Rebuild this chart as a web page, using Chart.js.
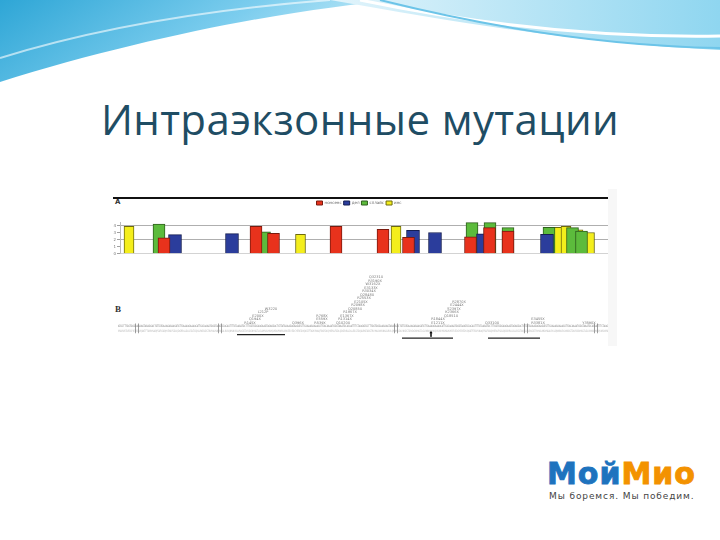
<!DOCTYPE html>
<html lang="ru">
  <head>
    <meta charset="UTF-8" />
    <title>Интраэкзонные мутации</title>
    <script src="https://cdn.jsdelivr.net/npm/chart.js@4"></script>
    <style>
      html,
      body {
        margin: 0;
        padding: 0;
        background: #fff;
      }
      body {
        width: 720px;
        height: 540px;
        position: relative;
        overflow: hidden;
      }
      .deco {
        position: absolute;
        left: 0;
        top: 0;
      }
      h1 {
        position: absolute;
        left: 0;
        top: 98px;
        width: 720px;
        margin: 0;
        text-align: center;
        font: 400 42px/1 "Open Sans", sans-serif;
        letter-spacing: 0.4px;
        color: #1f4d64;
      }
      .rule {
        position: absolute;
        left: 113px;
        top: 197px;
        width: 495px;
        height: 1.5px;
        background: #111;
      }
      .strip {
        position: absolute;
        left: 608px;
        top: 189px;
        width: 9px;
        height: 157px;
        background: #f7f7f7;
      }
      .tag {
        position: absolute;
        color: #333;
      }
      .box {
        position: absolute;
      }
      .logo {
        position: absolute;
        left: 547px;
        top: 462px;
        font: 700 30px/24px "DejaVu Sans", sans-serif;
        letter-spacing: 1px;
        -webkit-text-stroke: 0.9px currentColor;
      }
      .logo .a {
        color: #1e73be;
      }
      .logo .b {
        color: #f39200;
      }
      .motto {
        position: absolute;
        left: 549px;
        top: 492px;
        font: 400 9px/1 "DejaVu Sans", sans-serif;
        color: #444;
        letter-spacing: 0.9px;
      }
    </style>
  </head>
  <body>
    <svg class="deco" width="720" height="90">
      <defs>
        <linearGradient id="g1" x1="0" y1="0" x2="1" y2="0.3">
          <stop offset="0" stop-color="#2ea6d6" />
          <stop offset="0.6" stop-color="#7ccdee" />
          <stop offset="1" stop-color="#c8ecf8" />
        </linearGradient>
        <linearGradient id="g2" x1="0" y1="0" x2="1" y2="0">
          <stop offset="0" stop-color="#e2f4fb" />
          <stop offset="1" stop-color="#8fd6f0" />
        </linearGradient>
      </defs>
      <path d="M0,0 H400 C300,8 150,35 0,82 Z" fill="url(#g1)" />
      <path d="M0,58 C90,30 200,10 330,0" stroke="#fff" stroke-width="2" fill="none" opacity="0.6" />
      <path d="M330,0 H720 V50 C600,45 470,25 330,0 Z" fill="url(#g2)" />
      <path d="M360,0 C480,25 600,38 720,36" stroke="#fff" stroke-width="3" fill="none" />
      <path d="M380,0 C500,30 610,46 720,48" stroke="#6cc4e8" stroke-width="2" fill="none" />
    </svg>

    <h1>Интраэкзонные мутации</h1>

    <div class="strip"></div>
    <div class="rule"></div>
    <div class="tag" style="left:115px;top:199px;font:700 7px/1 'DejaVu Sans'">A</div>
    <div class="tag" style="left:115px;top:305px;font:700 9px/1 'Liberation Serif'">B</div>

    <div class="box" style="left:110px;top:199px;width:502px;height:58px">
      <canvas id="mutChart"></canvas>
    </div>
    <div class="box" style="left:110px;top:263px;width:502px;height:83px">
      <canvas id="seqChart"></canvas>
    </div>

    <div class="logo"><span class="a">Мой</span><span class="b">Мио</span></div>
    <div class="motto">Мы боремся. Мы победим.</div>

    <script>
      // Panel A: mutation counts by position (x = position along the gene)
      const categories = ["нонсенс", "дел", "сплайс", "инс"];
      const colors = ["#e8321c", "#2b3d9c", "#5cbb3c", "#f4ee1c"];
      const edgeColors = ["#7a1a0e", "#151e52", "#2f5f1e", "#6d6a0c"];

      const redPos = [44, 136, 153.5, 216, 263, 288.5, 350.5, 369.5, 388];
      const redVal = [2.25, 3.9, 2.9, 3.9, 3.45, 2.3, 2.4, 3.7, 3.2];
      const bluePos = [55, 112, 293, 315, 363, 427];
      const blueVal = [2.7, 2.85, 3.3, 3.0, 2.8, 2.75];
      const greenPos = [39, 144.5, 352, 370, 388, 429, 452.5, 461.5];
      const greenVal = [4.2, 3.1, 4.4, 4.4, 3.7, 3.75, 3.7, 3.2];
      const yellowPos = [9, 180.5, 276, 438, 446, 458, 469.5];
      const yellowVal = [3.9, 2.75, 3.9, 3.75, 3.9, 3.4, 3.0];
      const yTicks = [0, 1, 2, 3, 4];

      // Panel B: mutation labels above the sequence
      const mutPos = [
        130, 135, 138, 143, 151, 178, 200, 202, 202,
        223, 225, 227, 230, 235, 238, 241, 244, 247, 249, 251, 253, 255, 256,
        318, 318, 331, 332, 334, 337, 339, 372, 418, 418, 469,
      ];
      const mutLevel = [
        1, 2, 3, 4, 5, 1, 1, 2, 3,
        1, 2, 3, 4, 5, 6, 7, 8, 9, 10, 11, 12, 13, 14,
        1, 2, 3, 4, 5, 6, 7, 1, 1, 2, 1,
      ];
      const mutName = [
        "R145X", "Q194X", "E200X", "L212P", "W322X", "Q396X", "R539X", "E559X", "R768X",
        "Q1020X", "R1314X", "E1367X", "R1967X", "Q2085X", "R2098X", "E2105X", "R2553X",
        "Q2848X", "R3034X", "E3133X", "W3162X", "R3190X", "Q3231X",
        "E1211X", "R1844X", "Q1851X", "K2366X", "S2397X", "E2444X", "R2870X",
        "Q3310X", "R3381X", "E3455X", "Y3590X",
      ];
      const exonBounds = [15, 18, 98, 101, 274, 277, 404, 407, 474, 477];
      const underlines = [
        [117, 165, -2.4],
        [282, 333, -3.4],
        [368, 420, -3.4],
      ];
      const arrowPos = 311;
      const seqUnit =
        "ATGCTTTGGTGGGAAGAAGTAGAGGACTGTTATGAAAGAGAAGATGTTCAAAAGAAAACATTCACAAAATGGGTAAATGCACAATTTTCTAAG";
      const protUnit = "MLWWEEVEDCYEREDVQKKTFTKWVNAQFSKFGKQHIENLFSDLQDGRRLLDLLEGLTGQKLPKEKGSTRVHALNNVNKALRVLQNNNVDLVNIGSTDIVDGNHKLTLGLIWNIILHWQVKNVMK";

      const pairs = (xs, ys) => xs.map((x, i) => ({ x, y: ys[i] }));

      // give the legend more room below it
      const legendGap = {
        id: "legendGap",
        beforeUpdate(chart) {
          const lg = chart.legend;
          if (!lg || lg._gap) return;
          const fit = lg.fit;
          lg.fit = function () {
            fit.call(this);
            this.height += 7;
          };
          lg._gap = true;
        },
      };

      const barSets = [
        [redPos, redVal, 12],
        [bluePos, blueVal, 13],
        [greenPos, greenVal, 12],
        [yellowPos, yellowVal, 10],
      ].map(([xs, ys, w], i) => ({
        label: categories[i],
        data: pairs(xs, ys),
        backgroundColor: colors[i],
        borderColor: edgeColors[i],
        borderWidth: 1,
        barThickness: w,
        grouped: false,
      }));

      new Chart(document.getElementById("mutChart"), {
        type: "bar",
        data: { datasets: barSets },
        plugins: [legendGap],
        options: {
          responsive: true,
          maintainAspectRatio: false,
          animation: false,
          events: [],
          layout: { padding: { right: 4, bottom: 3 } },
          plugins: {
            legend: {
              position: "top",
              labels: {
                boxWidth: 6,
                boxHeight: 4,
                padding: 2,
                color: "#666",
                font: { size: 4, family: "DejaVu Sans" },
              },
            },
            tooltip: { enabled: false },
          },
          scales: {
            x: { type: "linear", min: 0, max: 488, offset: false, display: false },
            y: {
              min: 0,
              max: 4.5,
              afterBuildTicks: (s) => {
                s.ticks = yTicks.map((v) => ({ value: v }));
              },
              afterFit: (s) => {
                s.width = 10;
              },
              grid: {
                color: (c) => {
                  const v = c.tick ? c.tick.value : null;
                  if (v === 2 || v === 4) return "#9a9a9a";
                  if (v === 0) return "#c8c8c8";
                  return "rgba(0,0,0,0)";
                },
                tickColor: "#888",
                tickLength: 3,
                lineWidth: 0.8,
              },
              border: { color: "#bbb" },
              ticks: { font: { size: 4, family: "DejaVu Sans" }, color: "#777", padding: 1 },
            },
          },
        },
      });

      // Panel B: sequence text, exon marks, mutation names
      const seqText = {
        id: "seqText",
        afterDatasetsDraw(chart) {
          const { ctx } = chart;
          const { x, y } = chart.scales;
          ctx.save();
          ctx.textBaseline = "middle";
          const x0 = x.getPixelForValue(-2);
          const x1 = x.getPixelForValue(488);
          ctx.font = "3px 'DejaVu Sans'";
          ctx.fillStyle = "#7a7a7a";
          ctx.fillText(seqUnit.repeat(4), x0, y.getPixelForValue(0), x1 - x0);
          ctx.fillStyle = "#b5b5b5";
          ctx.fillText(protUnit.repeat(3), x0, y.getPixelForValue(-1.4), x1 - x0);

          ctx.strokeStyle = "#777";
          ctx.lineWidth = 0.7;
          exonBounds.forEach((b) => {
            const px = Math.round(x.getPixelForValue(b)) + 0.5;
            ctx.beginPath();
            ctx.moveTo(px, y.getPixelForValue(0.8));
            ctx.lineTo(px, y.getPixelForValue(-2));
            ctx.stroke();
          });

          ctx.font = "3.5px 'DejaVu Sans'";
          ctx.textAlign = "center";
          ctx.fillStyle = "#777";
          mutName.forEach((t, i) => {
            ctx.fillText(t, x.getPixelForValue(mutPos[i]), y.getPixelForValue(mutLevel[i]));
          });
          ctx.restore();
        },
      };

      const lineSets = underlines.map(([a, b, lvl]) => ({
        data: [
          { x: a, y: lvl },
          { x: b, y: lvl },
        ],
        borderColor: "#222",
        borderWidth: 1.2,
        pointRadius: 0,
      }));
      lineSets.push({
        data: [
          { x: arrowPos, y: -1.9 },
          { x: arrowPos, y: -3 },
        ],
        borderColor: "#111",
        borderWidth: 0.8,
        pointRadius: 0,
      });
      lineSets.push({
        data: [{ x: arrowPos, y: -1.7 }],
        pointStyle: "triangle",
        pointRadius: 1.8,
        backgroundColor: "#111",
        borderColor: "#111",
        borderWidth: 0,
        showLine: false,
      });

      new Chart(document.getElementById("seqChart"), {
        type: "line",
        data: { datasets: lineSets },
        plugins: [seqText],
        options: {
          responsive: true,
          maintainAspectRatio: false,
          animation: false,
          events: [],
          layout: { padding: { left: 10, right: 4 } },
          plugins: { legend: { display: false }, tooltip: { enabled: false } },
          scales: {
            x: { type: "linear", min: 0, max: 488, display: false },
            y: { min: -4.5, max: 17, display: false },
          },
        },
      });
    </script>
  </body>
</html>
